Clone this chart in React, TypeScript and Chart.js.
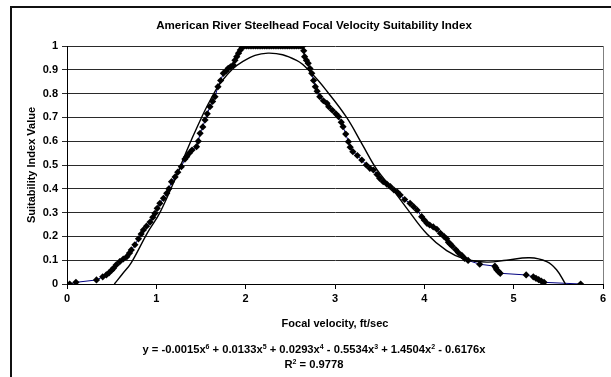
import React, { useEffect, useRef } from "react";
import { Chart, registerables } from "chart.js";

Chart.register(...registerables);

const TITLE = "American River Steelhead Focal Velocity Suitability Index";
const X_TITLE = "Focal velocity, ft/sec";
const Y_TITLE = "Suitability Index Value";

const xTickLabels = ["0", "1", "2", "3", "4", "5", "6"];
const yTickLabels = ["0", "0.1", "0.2", "0.3", "0.4", "0.5", "0.6", "0.7", "0.8", "0.9", "1"];

// Observed suitability points (focal velocity ft/sec)
const obsX = [
  0.03, 0.1, 0.33, 0.4, 0.44, 0.47, 0.5, 0.52, 0.55, 0.59, 0.63, 0.67, 0.7, 0.72, 0.76, 0.8, 0.83, 0.855,
  0.89, 0.93, 0.96, 0.985, 1.01, 1.04, 1.08, 1.116, 1.14, 1.17, 1.21, 1.24, 1.28, 1.32, 1.34, 1.37, 1.4,
  1.45, 1.47, 1.49, 1.52, 1.545, 1.57, 1.6, 1.63, 1.657, 1.69, 1.72, 1.75, 1.78, 1.805, 1.83, 1.86, 1.88,
  1.9, 1.92, 1.94, 1.96, 1.99, 2.01, 2.03, 2.05, 2.07, 2.09, 2.11, 2.13, 2.15, 2.17, 2.19, 2.21, 2.23,
  2.25, 2.27, 2.29, 2.31, 2.33, 2.35, 2.37, 2.39, 2.41, 2.43, 2.45, 2.47, 2.49, 2.51, 2.53, 2.55, 2.57,
  2.59, 2.61, 2.63, 2.64, 2.65, 2.66, 2.68, 2.7, 2.72, 2.74, 2.76, 2.78, 2.8, 2.83, 2.87, 2.91, 2.93,
  2.97, 3.01, 3.04, 3.07, 3.09, 3.12, 3.15, 3.17, 3.2, 3.25, 3.3, 3.35, 3.39, 3.43, 3.47, 3.5, 3.54, 3.58,
  3.62, 3.66, 3.7, 3.73, 3.78, 3.84, 3.88, 3.92, 3.97, 4.0, 4.03, 4.06, 4.1, 4.14, 4.18, 4.22, 4.25, 4.27,
  4.29, 4.31, 4.35, 4.38, 4.42, 4.45, 4.49, 4.62, 4.79, 4.8, 4.81, 4.83, 4.85, 5.14, 5.22, 5.25, 5.28,
  5.31, 5.34, 5.75,
];
const obsY = [
  0, 0.007, 0.017, 0.03, 0.038, 0.047, 0.058, 0.066, 0.08, 0.094, 0.105, 0.115, 0.13, 0.143, 0.165, 0.19, 0.21, 0.227,
  0.243, 0.26, 0.28, 0.297, 0.318, 0.339, 0.36, 0.381, 0.4, 0.43, 0.45, 0.47, 0.493, 0.525, 0.535, 0.55, 0.563,
  0.577, 0.6, 0.633, 0.66, 0.689, 0.715, 0.745, 0.767, 0.787, 0.829, 0.855, 0.885, 0.895, 0.906, 0.912, 0.92, 0.94,
  0.955, 0.97, 0.983, 0.993, 1, 1, 1, 1, 1, 1, 1, 1, 1, 1, 1, 1, 1,
  1, 1, 1, 1, 1, 1, 1, 1, 1, 1, 1, 1, 1, 1, 1, 1, 1,
  1, 1, 1, 1, 0.98, 0.955, 0.94, 0.927, 0.905, 0.885, 0.855, 0.829, 0.81, 0.787, 0.77, 0.759, 0.745,
  0.73, 0.715, 0.703, 0.68, 0.661, 0.63, 0.598, 0.575, 0.556, 0.54, 0.521, 0.5, 0.486, 0.479, 0.46, 0.444, 0.43, 0.42,
  0.409, 0.395, 0.385, 0.374, 0.355, 0.339, 0.325, 0.31, 0.283, 0.268, 0.255, 0.248, 0.24, 0.23, 0.213, 0.2, 0.19, 0.175,
  0.168, 0.16, 0.145, 0.132, 0.12, 0.108, 0.099, 0.083, 0.075, 0.068, 0.06, 0.052, 0.045, 0.038, 0.03, 0.024, 0.018,
  0.012, 0.007, 0,
];

// Polynomial trendline
const trendX = [
  0.53, 0.62, 0.72, 0.9, 1.04, 1.22, 1.34, 1.47, 1.6, 1.75, 1.97, 2.25, 2.57, 2.75, 2.91, 3.13, 3.3, 3.47,
  3.62, 3.8, 4.03, 4.25, 4.45, 4.7, 4.92, 5.18, 5.37, 5.48, 5.58,
];
const trendY = [
  0, 0.042, 0.09, 0.215, 0.3, 0.45, 0.56, 0.67, 0.77, 0.86, 0.935, 0.97, 0.94, 0.88, 0.81, 0.7, 0.59, 0.48,
  0.41, 0.32, 0.21, 0.14, 0.105, 0.092, 0.1, 0.11, 0.094, 0.06, 0,
];

const FONT = "'Liberation Sans', Arial, sans-serif";

export default function App() {
  const canvasRef = useRef<HTMLCanvasElement | null>(null);

  useEffect(() => {
    const canvas = canvasRef.current;
    if (!canvas) return;
    const borderPlugin = {
      id: "plotBorder",
      afterDraw(chart: any) {
        const { ctx, chartArea } = chart;
        ctx.save();
        ctx.strokeStyle = "#808080";
        ctx.lineWidth = 1;
        ctx.beginPath();
        ctx.moveTo(Math.round(chartArea.right) + 0.5, chartArea.top);
        ctx.lineTo(Math.round(chartArea.right) + 0.5, chartArea.bottom);
        ctx.stroke();
        ctx.restore();
      },
    };
    const chart = new Chart(canvas, {
      type: "line",
      data: {
        datasets: [
          {
            label: "Trendline",
            data: trendX.map((x, i) => ({ x, y: trendY[i] })),
            borderColor: "#000000",
            borderWidth: 1.4,
            pointRadius: 0,
            tension: 0.4,
            fill: false,
          },
          {
            label: "Observed",
            data: obsX.map((x, i) => ({ x, y: obsY[i] })),
            borderColor: "#000080",
            borderWidth: 1,
            pointStyle: "rectRot",
            pointRadius: 3.6,
            pointBackgroundColor: "#000000",
            pointBorderColor: "#000000",
            pointBorderWidth: 0,
            tension: 0,
            fill: false,
          },
        ],
      },
      options: {
        animation: false,
        responsive: false,
        events: [],
        layout: { padding: { top: 46, left: 0, right: 8, bottom: 46 } },
        plugins: { legend: { display: false }, tooltip: { enabled: false }, title: { display: false } },
        scales: {
          x: {
            type: "linear",
            min: 0,
            max: 6,
            afterFit(scale: any) {
              scale.height = 47;
            },
            ticks: {
              stepSize: 1,
              padding: 3,
              color: "#000",
              font: { family: FONT, size: 11, weight: "bold" },
              maxRotation: 0,
              callback: (v: any) => xTickLabels[Math.round(Number(v))] ?? "",
            },
            grid: { drawOnChartArea: false, drawTicks: true, tickLength: 5, color: "#000" },
            border: { display: true, color: "#000", width: 1 },
            title: {
              display: true,
              text: X_TITLE,
              color: "#000",
              font: { family: FONT, size: 11, weight: "bold" },
              padding: { top: 0, bottom: 0 },
            },
          },
          y: {
            type: "linear",
            min: 0,
            max: 1,
            afterFit(scale: any) {
              scale.width = 67;
            },
            ticks: {
              stepSize: 0.1,
              padding: 4,
              color: "#000",
              font: { family: FONT, size: 11, weight: "bold" },
              callback: (v: any) => yTickLabels[Math.round(Number(v) * 10)] ?? "",
            },
            grid: { color: "#2a2a2a", lineWidth: 1, drawTicks: true, tickLength: 5 },
            border: { display: true, color: "#000", width: 1 },
            title: {
              display: true,
              text: Y_TITLE,
              color: "#000",
              font: { family: FONT, size: 11, weight: "bold" },
              padding: { top: 25, bottom: 0 },
            },
          },
        },
      },
      plugins: [borderPlugin],
    } as any);
    return () => chart.destroy();
  }, []);

  const textStyle: React.CSSProperties = {
    position: "absolute",
    left: 10,
    width: 608,
    textAlign: "center",
    fontFamily: FONT,
    fontWeight: "bold",
    color: "#000",
    whiteSpace: "nowrap",
  };
  const supStyle: React.CSSProperties = { fontSize: "7px", verticalAlign: "4px", lineHeight: 0 };

  return (
    <div
      style={{
        position: "fixed",
        left: 0,
        top: 0,
        width: 611,
        height: 377,
        overflow: "hidden",
        background: "#fff",
      }}
    >
      <div
        style={{
          position: "absolute",
          left: 10,
          top: 6,
          width: 700,
          height: 500,
          border: "2px solid #111",
          boxSizing: "border-box",
        }}
      />
      <canvas ref={canvasRef} width={611} height={377} style={{ position: "absolute", left: 0, top: 0 }} />
      <div style={{ ...textStyle, top: 17, fontSize: 11.6, lineHeight: "16px" }}>{TITLE}</div>
      <div style={{ ...textStyle, top: 342, fontSize: 11.2, lineHeight: "14px" }}>
        y = -0.0015x<sup style={supStyle}>6</sup> + 0.0133x<sup style={supStyle}>5</sup> + 0.0293x
        <sup style={supStyle}>4</sup> - 0.5534x<sup style={supStyle}>3</sup> + 1.4504x<sup style={supStyle}>2</sup> -
        0.6176x
      </div>
      <div style={{ ...textStyle, top: 357, fontSize: 11.2, lineHeight: "14px" }}>
        R<sup style={supStyle}>2</sup> = 0.9778
      </div>
    </div>
  );
}
